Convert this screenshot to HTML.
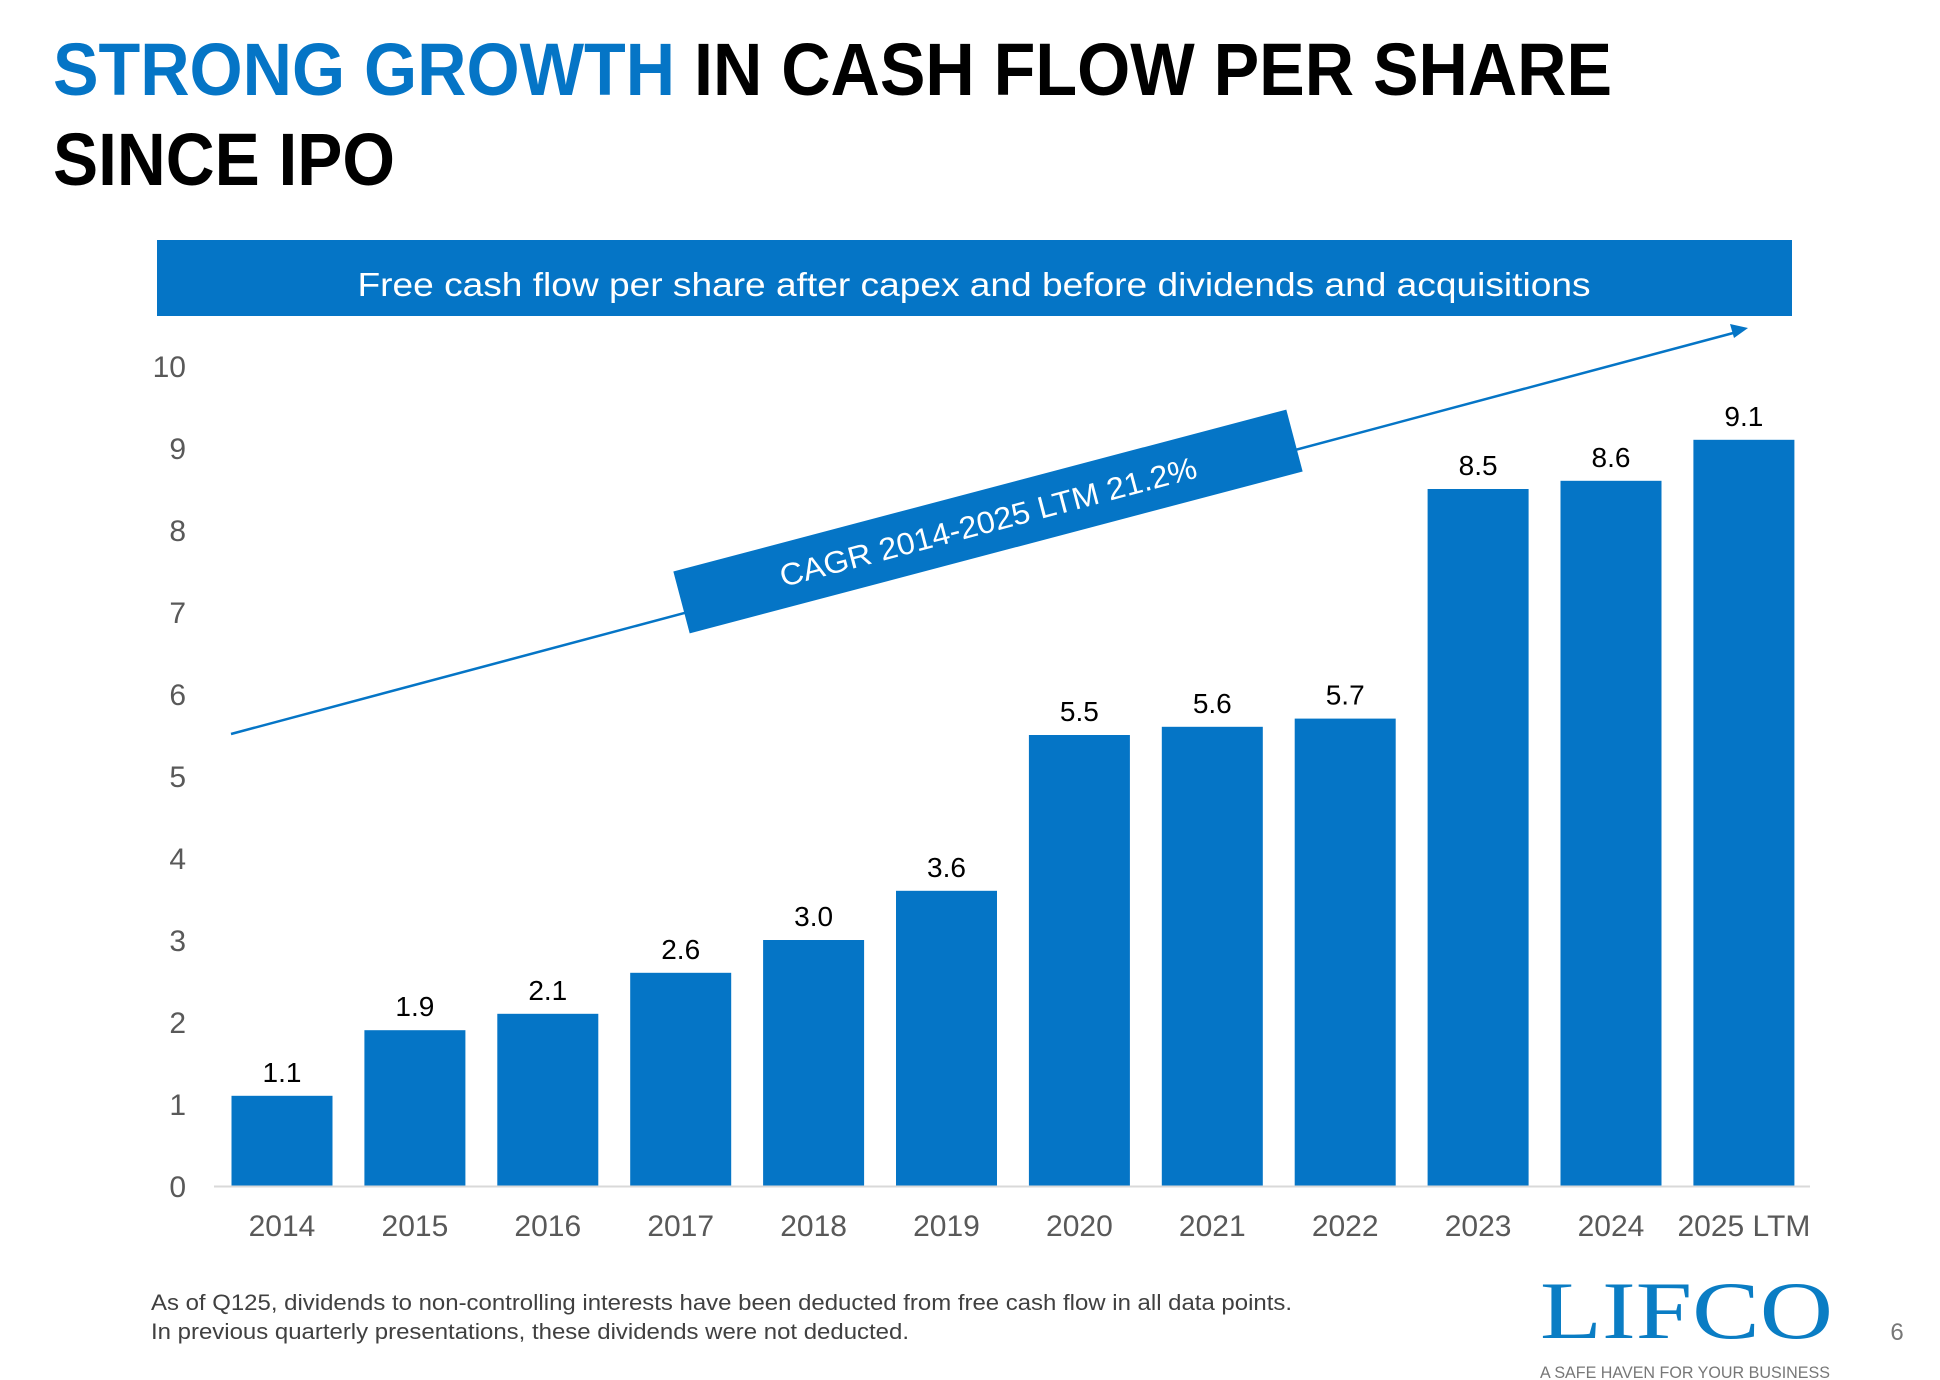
<!DOCTYPE html>
<html><head><meta charset="utf-8"><style>
html,body{margin:0;padding:0;background:#fff;}
svg{display:block;font-family:"Liberation Sans",Arial,sans-serif;}
</style></head><body>
<svg id="chart" width="1940" height="1380" viewBox="0 0 1940 1380" xmlns="http://www.w3.org/2000/svg">
<text x="53" y="95" font-size="74" font-weight="bold" textLength="1559" lengthAdjust="spacingAndGlyphs"><tspan fill="#0575c6">STRONG GROWTH</tspan><tspan fill="#000"> IN CASH FLOW PER SHARE</tspan></text>
<text x="53" y="185" font-size="74" font-weight="bold" fill="#000" textLength="342" lengthAdjust="spacingAndGlyphs">SINCE IPO</text>
<rect x="157" y="240" width="1635" height="76" fill="#0575c6"/>
<text x="974" y="296" font-size="33" fill="#fff" text-anchor="middle" textLength="1233" lengthAdjust="spacingAndGlyphs">Free cash flow per share after capex and before dividends and acquisitions</text>
<g id="yaxis"></g>
<g id="bars"></g>
<line x1="214" y1="1186.5" x2="1810" y2="1186.5" stroke="#d9d9d9" stroke-width="2"/>
<g id="xaxis"></g>
<line x1="231" y1="734" x2="1737" y2="332" stroke="#0575c6" stroke-width="2.5"/>
<polygon points="1748,328 1730,324 1734,338" fill="#0575c6"/>
<g transform="translate(988,521.5) rotate(-14.8)">
<rect x="-317" y="-32" width="634" height="64" fill="#0575c6"/>
<text x="0" y="11" font-size="31" fill="#fff" text-anchor="middle" textLength="430" lengthAdjust="spacingAndGlyphs">CAGR 2014-2025 LTM 21.2%</text>
</g>
<text x="151" y="1310" font-size="22" fill="#404040" textLength="1141" lengthAdjust="spacingAndGlyphs">As of Q125, dividends to non-controlling interests have been deducted from free cash flow in all data points.</text>
<text x="151" y="1339" font-size="22" fill="#404040" textLength="758" lengthAdjust="spacingAndGlyphs">In previous quarterly presentations, these dividends were not deducted.</text>
<text x="1540" y="1338" font-family="'Liberation Serif',serif" font-size="82" fill="#0a7dc4" textLength="293" lengthAdjust="spacingAndGlyphs">LIFCO</text>
<text x="1540" y="1378" font-size="17" fill="#777" textLength="290" lengthAdjust="spacingAndGlyphs">A SAFE HAVEN FOR YOUR BUSINESS</text>
<text x="1897" y="1340" font-size="24" fill="#777" text-anchor="middle">6</text>
</svg>
<script>
const categories = ["2014","2015","2016","2017","2018","2019","2020","2021","2022","2023","2024","2025 LTM"];
const values = [1.1,1.9,2.1,2.6,3.0,3.6,5.5,5.6,5.7,8.5,8.6,9.1];
const valueLabels = ["1.1","1.9","2.1","2.6","3.0","3.6","5.5","5.6","5.7","8.5","8.6","9.1"];
const yTicks = [0,1,2,3,4,5,6,7,8,9,10];

const NS = "http://www.w3.org/2000/svg";
const y0 = 1186, y10 = 366;
function yScale(v){ return y0 - (y0 - y10) * v / 10; }
function xCenter(i){ return 282 + i * 132.9; }
const barW = 101;
function mk(tag, attrs, parent){ const e = document.createElementNS(NS, tag); for (const k in attrs) e.setAttribute(k, attrs[k]); parent.appendChild(e); return e; }

const yg = document.getElementById('yaxis');
yTicks.forEach(t => {
  const e = mk('text', {x:186, y:yScale(t)+11, 'font-size':30, fill:'#595959', 'text-anchor':'end'}, yg);
  
  
  e.textContent = t;
});
const bg = document.getElementById('bars');
const xg = document.getElementById('xaxis');
categories.forEach((c, i) => {
  const v = values[i];
  const r = mk('rect', {x:xCenter(i)-barW/2, y:yScale(v), width:barW, height:y0-yScale(v), fill:'#0575c6'}, bg);
  
  
  const l = mk('text', {x:xCenter(i), y:yScale(v)-14, 'font-size':28, fill:'#000', 'text-anchor':'middle'}, bg);
  
  
  l.textContent = valueLabels[i];
  const xl = mk('text', {x:xCenter(i), y:1236, 'font-size':30, fill:'#595959', 'text-anchor':'middle'}, xg);
  
  
  xl.textContent = c;
});
</script>
</body></html>
